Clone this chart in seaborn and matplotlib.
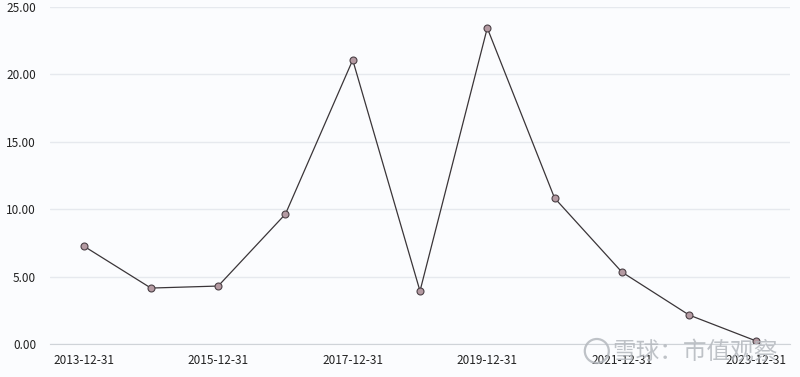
import pandas as pd
import seaborn as sns
import matplotlib.pyplot as plt
from matplotlib.patches import Ellipse

# values
dates = ['2013-12-31', '2014-12-31', '2015-12-31', '2016-12-31', '2017-12-31',
         '2018-12-31', '2019-12-31', '2020-12-31', '2021-12-31', '2022-12-31',
         '2023-12-31']
values = [7.27, 4.15, 4.30, 9.64, 21.07, 3.93, 23.44, 10.83, 5.34, 2.15, 0.22]
y_ticks = [0, 5, 10, 15, 20, 25]

df = pd.DataFrame({'idx': range(len(dates)), 'date': dates, 'value': values})

sns.set_style('white')
plt.rcParams['font.family'] = ['Noto Sans CJK SC', 'DejaVu Sans']

fig = plt.figure(figsize=(8, 3.77), dpi=100)
fig.patch.set_facecolor('#fbfcfe')
ax = fig.add_axes([0.0625, 0.0875, 0.925, 0.894])
ax.set_facecolor('#fbfcfe')

sns.lineplot(data=df, x='idx', y='value', ax=ax, color='#3a3538', linewidth=0.9,
             marker='o', markersize=5, markerfacecolor='#b49aa2',
             markeredgecolor='#4a4045', markeredgewidth=0.8)

ax.set_xlim(-0.5, len(dates) - 0.5)
ax.set_ylim(0, 25)
ax.set_yticks(y_ticks)
ax.set_yticklabels([f'{v:.2f}' for v in y_ticks])
ax.set_xticks(df['idx'][::2])
ax.set_xticklabels(df['date'][::2])
ax.grid(axis='y', color='#e6e9ee', linewidth=1)
ax.set_axisbelow(True)

for side in ['top', 'right', 'left']:
    ax.spines[side].set_visible(False)
ax.spines['bottom'].set_color('#cfd3d8')
ax.tick_params(axis='x', length=3, color='#cfd3d8', labelsize=8.5,
               labelcolor='#222222', pad=4)
ax.tick_params(axis='y', length=0, labelsize=8.5, labelcolor='#222222', pad=10)
ax.set_xlabel('')
ax.set_ylabel('')

# watermark (overlaps the last tick labels, as in the source image)
fig.text(0.869, 0.066, '雪球：市值观察', fontsize=17, color='#b4b8be',
         alpha=0.85, ha='center', va='center')
fig.add_artist(Ellipse((0.746, 0.069), 24 / 800, 24 / 377, transform=fig.transFigure,
                       fill=False, edgecolor='#b4b8be', linewidth=1.6, alpha=0.85))

fig.savefig('out.png', dpi=100, facecolor=fig.get_facecolor())
